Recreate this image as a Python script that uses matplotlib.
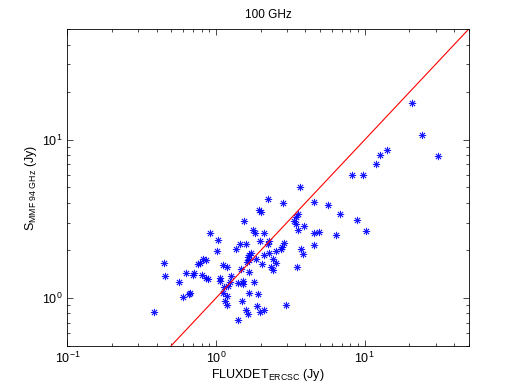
import numpy as np
import matplotlib
matplotlib.use("Agg")
import matplotlib.pyplot as plt

plt.rcParams['font.family'] = ['Liberation Sans', 'DejaVu Sans']
plt.rcParams['mathtext.fontset'] = 'custom'
plt.rcParams['mathtext.rm'] = 'Liberation Sans'
plt.rcParams['mathtext.it'] = 'Liberation Sans:italic'
plt.rcParams['mathtext.bf'] = 'Liberation Sans:bold'

# ERCSC flux (x) vs MMF flux at 94 GHz (y), Jy
flux_ercsc = [20.8, 24.5, 31.4, 14.1, 12.7, 12.0, 8.18, 9.80, 3.66, 4.53,
              5.65, 6.80, 8.89, 10.2, 6.43, 4.57, 4.94, 3.88, 3.55, 3.55,
              3.46, 3.37, 3.44, 2.89, 2.79, 2.75, 3.74, 3.84, 4.53, 3.52,
              2.98, 2.23, 2.82, 1.94, 2.00, 1.54, 1.78, 1.83, 2.09, 0.914,
              1.03, 1.99, 2.27, 2.24, 1.44, 1.59, 1.36, 1.02, 1.73, 1.68,
              1.64, 1.66, 1.61, 2.09, 2.29, 2.54, 2.41, 1.87, 2.54, 2.05,
              2.35, 2.41, 0.446, 0.818, 0.857, 0.778, 0.757, 1.11, 1.19, 1.48,
              0.630, 0.708, 0.701, 0.453, 0.807, 0.862, 0.883, 1.07, 1.06, 1.27,
              1.68, 1.52, 1.53, 1.24, 1.20, 1.41, 1.80, 0.565, 0.671, 0.659,
              0.601, 1.14, 1.12, 1.18, 1.15, 1.18, 1.68, 1.91, 1.50, 1.90,
              1.60, 1.64, 1.99, 2.12, 1.41, 0.382]
flux_mmf = [17.1, 10.8, 7.96, 8.65, 8.00, 7.05, 6.01, 6.01, 5.00, 4.04,
            3.88, 3.39, 3.12, 2.67, 2.49, 2.57, 2.62, 2.87, 2.69, 3.41,
            3.25, 3.05, 2.96, 2.24, 2.11, 2.04, 2.04, 1.91, 2.15, 1.57,
            0.907, 4.20, 3.98, 3.58, 3.49, 3.06, 2.70, 2.59, 2.57, 2.59,
            2.34, 2.31, 2.30, 2.19, 2.20, 2.21, 2.04, 1.99, 1.93, 1.86,
            1.81, 1.75, 1.70, 1.88, 1.93, 1.97, 1.76, 1.76, 1.66, 1.64,
            1.58, 1.51, 1.66, 1.76, 1.75, 1.66, 1.64, 1.62, 1.58, 1.52,
            1.45, 1.43, 1.39, 1.37, 1.40, 1.34, 1.32, 1.34, 1.29, 1.38,
            1.47, 1.29, 1.23, 1.27, 1.20, 1.24, 1.26, 1.27, 1.08, 1.06,
            1.02, 1.18, 1.08, 1.03, 0.952, 0.910, 1.08, 1.06, 0.954, 0.885,
            0.844, 0.796, 0.813, 0.844, 0.732, 0.816]

one_to_one = [0.5, 50]

fig = plt.figure(figsize=(5.18, 3.90), dpi=100)
ax = fig.add_axes([0.13, 0.1136, 0.7745, 0.8113])

ax.plot(flux_ercsc, flux_mmf, linestyle='none', marker=(8, 2, 0),
        markersize=5.2, markeredgewidth=0.6, color='blue', alpha=0.9)
ax.plot(one_to_one, one_to_one, color='red', linewidth=0.8)

ax.set_xscale('log')
ax.set_yscale('log')
ax.set_xlim(0.1, 50)
ax.set_ylim(0.5, 50)

ax.tick_params(which='both', direction='in', top=True, right=True, labelsize=9)
ax.tick_params(which='major', length=4, width=0.5)
ax.tick_params(which='minor', length=2, width=0.5)
for s in ax.spines.values():
    s.set_linewidth(0.6)

ax.set_title('100 GHz', fontsize=8.5, pad=8)
ax.set_xlabel(r'FLUXDET$_{\mathrm{ERCSC}}$ (Jy)', fontsize=9, labelpad=1)
ax.set_ylabel(r'S$_{\mathrm{MMF\ 94\ GHz}}$ (Jy)', fontsize=9, labelpad=2)

fig.savefig('out.png', dpi=100)
